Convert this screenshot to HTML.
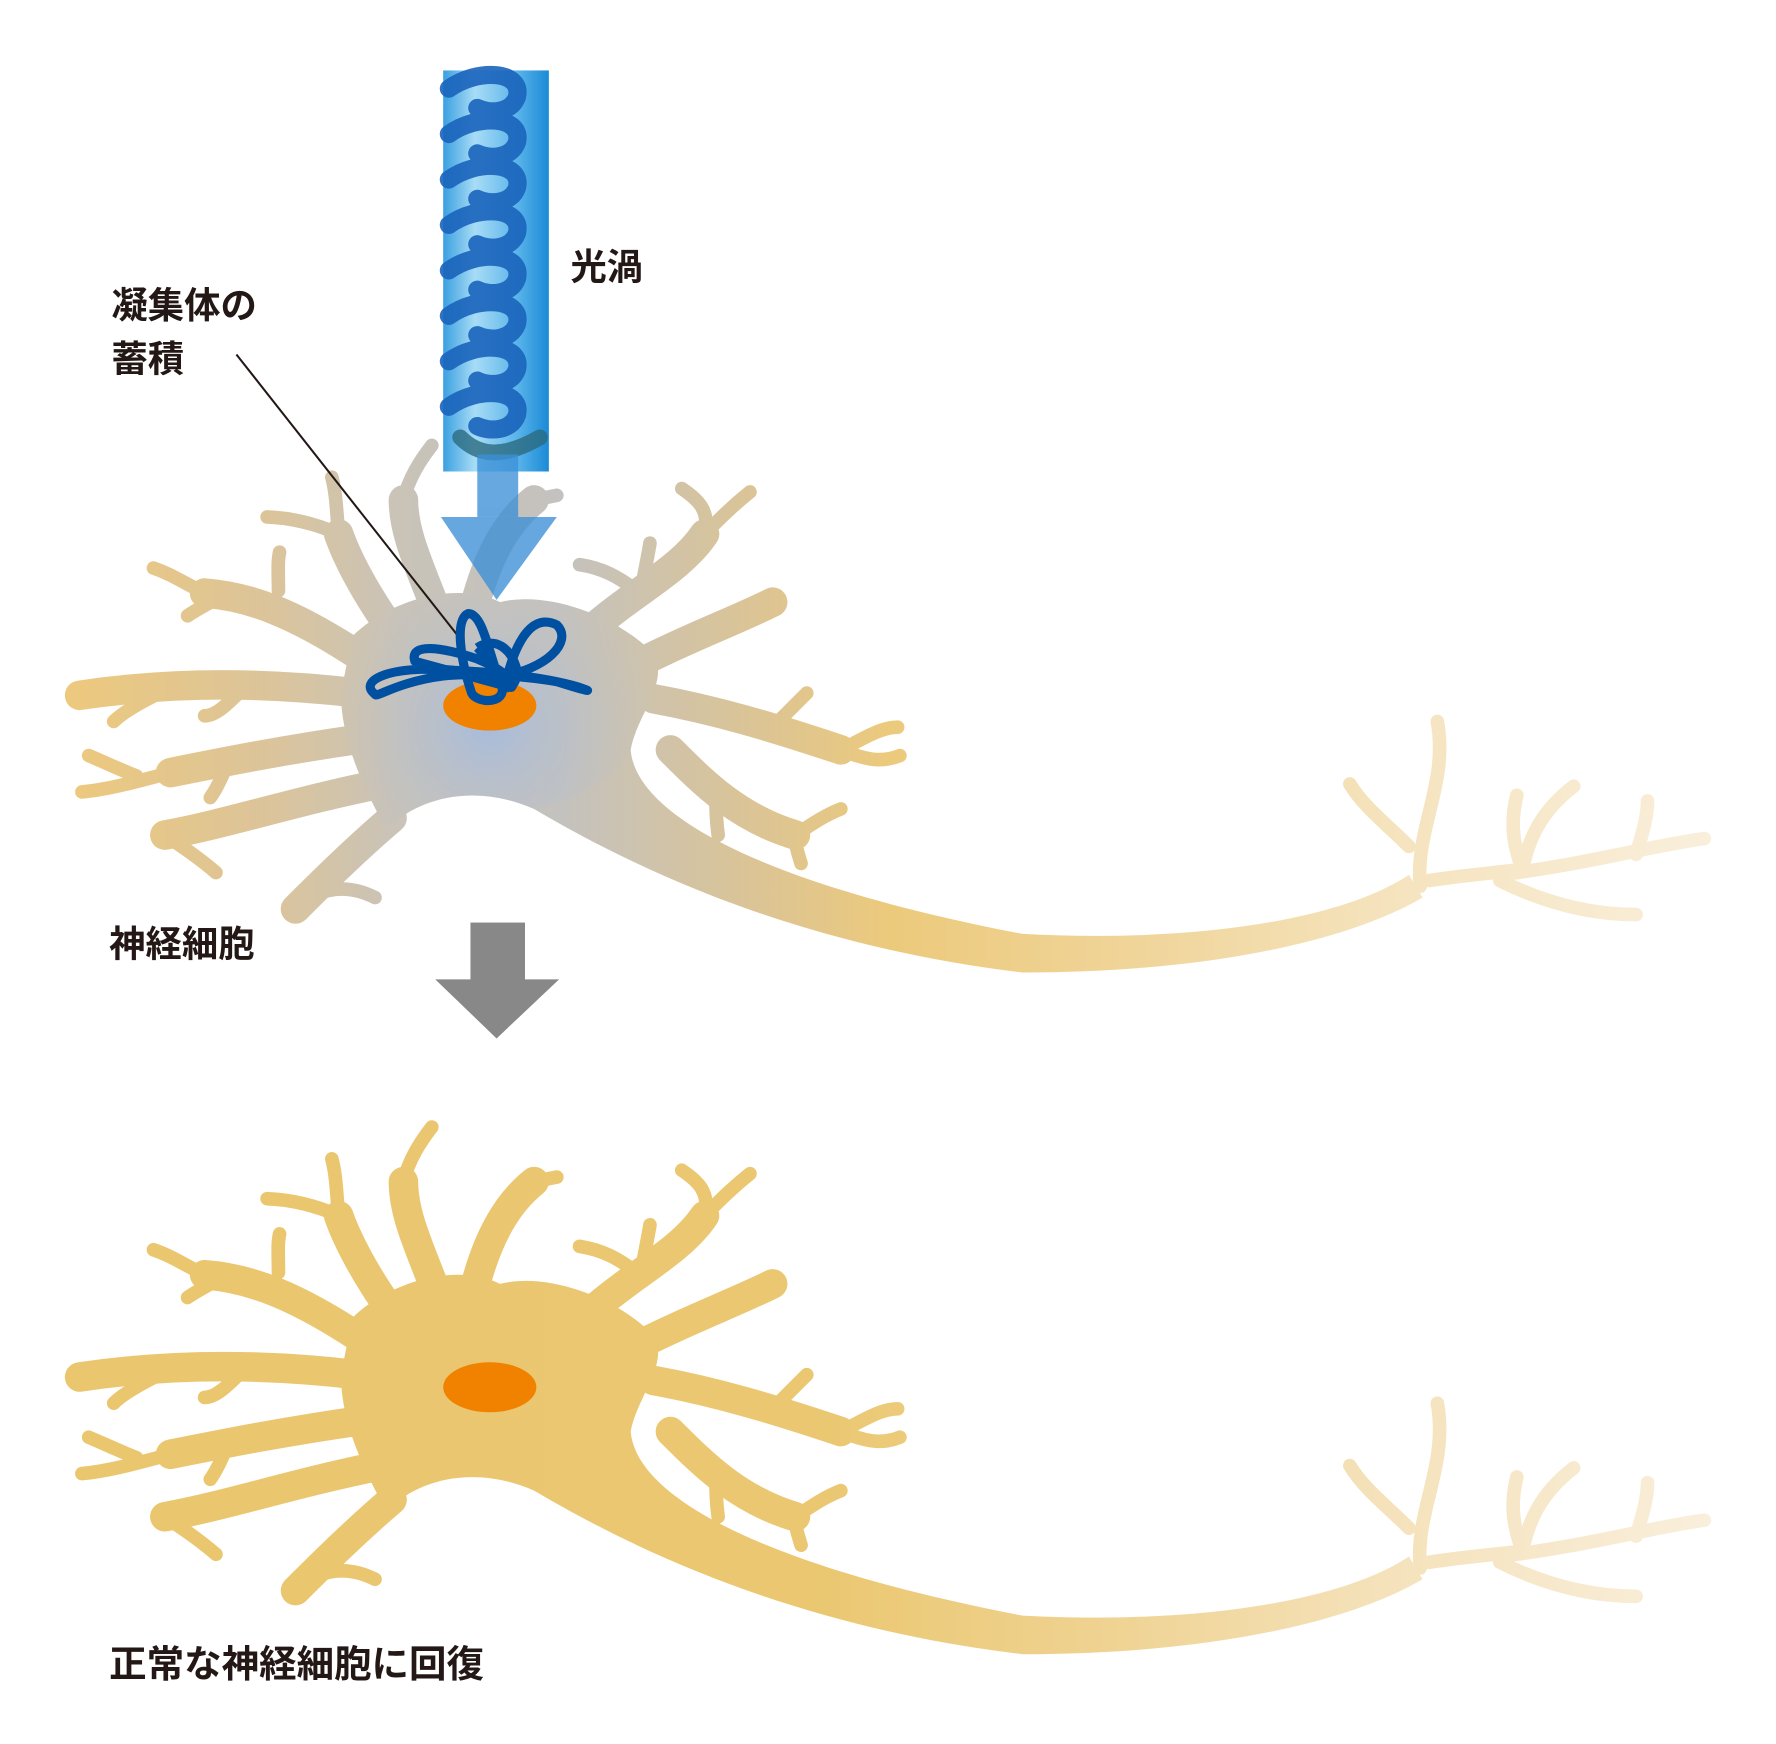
<!DOCTYPE html>
<html><head><meta charset="utf-8"><style>
html,body{margin:0;padding:0;background:#fff}
svg{display:block}
text{font-family:"Liberation Sans","Noto Sans CJK JP",sans-serif;font-weight:bold;fill:#231815}
</style></head><body>
<svg width="1776" height="1744" viewBox="0 0 1563 1535" xmlns="http://www.w3.org/2000/svg">
<defs>
<linearGradient id="g1" gradientUnits="userSpaceOnUse" x1="60" y1="0" x2="1510" y2="0">
<stop offset="0" stop-color="#edc97d"/><stop offset="0.12" stop-color="#dcc49a"/>
<stop offset="0.2" stop-color="#c9c3b8"/><stop offset="0.3" stop-color="#c4c2be"/>
<stop offset="0.42" stop-color="#dcc494"/><stop offset="0.5" stop-color="#ecca7c"/>
<stop offset="0.65" stop-color="#f0d59a"/><stop offset="0.8" stop-color="#f5e3bd"/>
<stop offset="1" stop-color="#f9efdc"/></linearGradient>
<linearGradient id="g2" gradientUnits="userSpaceOnUse" x1="60" y1="0" x2="1510" y2="0">
<stop offset="0" stop-color="#eac66f"/><stop offset="0.45" stop-color="#eac770"/>
<stop offset="0.62" stop-color="#efd290"/><stop offset="0.8" stop-color="#f5e2bb"/>
<stop offset="1" stop-color="#f9efdc"/></linearGradient>
<radialGradient id="rb" cx="430" cy="640" r="150" gradientUnits="userSpaceOnUse">
<stop offset="0" stop-color="#a8bcdc" stop-opacity="1"/><stop offset="1" stop-color="#c4c2be" stop-opacity="0"/></radialGradient>
<linearGradient id="beam" x1="0" y1="0" x2="1" y2="0">
<stop offset="0" stop-color="#3aa0e0"/><stop offset="0.3" stop-color="#a8dcf6"/>
<stop offset="0.7" stop-color="#5ab4ea"/><stop offset="1" stop-color="#1a8ad6"/></linearGradient>
<path id="soma" stroke="none" d="M310,560 C340,530 400,510 440,530 C480,520 540,540 575,575 C590,600 560,630 555,660 C560,720 680,780 900,822 C1050,830 1180,810 1240,770 L1252,790 C1180,832 1050,856 900,856 C700,832 560,765 470,712 C420,690 370,700 340,730 C318,690 300,650 300,610 Z"/>
<g id="n" stroke-linecap="round" stroke-linejoin="round">
<use href="#soma"/>
<g fill="none" stroke-width="26">
<path d="M345,555 C320,520 305,490 298,470"/>
<path d="M320,580 C260,540 220,525 180,522"/>
<path d="M315,610 C230,600 150,600 70,612"/>
<path d="M320,650 C250,660 200,670 150,680"/>
<path d="M335,690 C260,705 200,725 145,735"/>
<path d="M345,720 C310,750 280,780 260,800"/>
<path d="M385,540 C370,500 355,470 355,440"/>
<path d="M420,525 C430,490 445,460 470,440"/>
<path d="M525,550 C560,520 600,500 620,470"/>
<path d="M570,580 C610,560 650,545 680,530"/>
<path d="M575,615 C630,625 680,640 740,660"/>
<path d="M590,660 C620,690 650,720 700,735"/>
</g>
<g fill="none" stroke-width="12">
<path d="M298,470 C280,462 260,456 235,455"/>
<path d="M298,470 C296,450 296,435 292,420"/>
<path d="M180,522 C160,512 150,505 135,500"/>
<path d="M245,520 C245,505 244,495 246,486"/>
<path d="M200,522 C185,530 172,537 165,542"/>
<path d="M150,605 C130,615 110,625 100,635"/>
<path d="M215,605 C200,620 190,630 180,630"/>
<path d="M150,680 C120,688 95,695 72,697"/>
<path d="M120,683 C100,675 90,670 78,665"/>
<path d="M200,672 C195,685 190,695 185,702"/>
<path d="M145,735 C160,745 175,755 190,768"/>
<path d="M260,800 C275,785 300,775 330,790"/>
<path d="M355,440 C360,420 370,405 380,392"/>
<path d="M470,440 L490,436"/>
<path d="M620,470 C625,450 615,440 600,430"/>
<path d="M620,470 C635,455 645,445 660,433"/>
<path d="M560,520 C545,508 530,500 510,497"/>
<path d="M565,515 C568,500 570,490 572,478"/>
<path d="M740,660 C760,650 775,640 790,640"/>
<path d="M740,660 C760,668 775,672 792,665"/>
<path d="M680,640 C690,630 700,620 710,610"/>
<path d="M630,700 C630,710 630,720 632,735"/>
<path d="M700,735 C700,745 702,750 705,760"/>
<path d="M700,735 C715,725 725,718 740,712"/>
<path d="M1250,780 C1245,730 1275,690 1265,635"/>
<path d="M1240,745 C1220,725 1200,710 1188,690"/>
<path d="M1258,775 C1290,770 1320,768 1340,765"/>
<path d="M1340,765 C1345,740 1355,715 1385,692"/>
<path d="M1340,765 C1330,740 1330,720 1335,700"/>
<path d="M1320,770 C1400,760 1450,745 1500,738"/>
<path d="M1440,752 C1445,735 1450,720 1450,705"/>
<path d="M1320,775 C1360,795 1400,805 1440,805"/>
</g>
</g>
</defs>

<!-- top neuron -->
<use href="#n" fill="url(#g1)" stroke="url(#g1)"/>
<path d="M310,560 C340,530 400,510 440,530 C480,520 540,540 575,575 C590,600 560,630 555,660 C540,690 500,705 470,712 C420,690 370,700 340,730 C318,690 300,650 300,610 Z" fill="url(#rb)"/>

<!-- beam -->
<rect x="390" y="62" width="93" height="353" fill="url(#beam)"/>
<g fill="none" stroke="#1a64bc" stroke-width="16" stroke-linecap="round" opacity="0.9">
<path d="M395,78 C420,60 460,62 455,85 C450,100 430,100 420,95"/>
<path d="M395,118 C420,100 460,102 455,125 C450,140 430,140 420,135"/>
<path d="M395,158 C420,140 460,142 455,165 C450,180 430,180 420,175"/>
<path d="M395,198 C420,180 460,182 455,205 C450,220 430,220 420,215"/>
<path d="M395,238 C420,220 460,222 455,245 C450,260 430,260 420,255"/>
<path d="M395,278 C420,260 460,262 455,285 C450,300 430,300 420,295"/>
<path d="M395,318 C420,300 460,302 455,325 C450,340 430,340 420,335"/>
<path d="M395,358 C420,340 460,342 455,365 C450,380 430,380 420,375"/>
</g>
<path d="M405,385 C420,400 440,405 475,385" fill="none" stroke="#2a6a80" stroke-width="14" stroke-linecap="round" opacity="0.8"/>
<g opacity="0.78" fill="#3b8fd6">
<rect x="420" y="400" width="36" height="55"/>
<polygon points="388,455 490,455 437,528"/>
</g>

<!-- leader line -->
<line x1="208" y1="312" x2="408" y2="566" stroke="#231815" stroke-width="1.8"/>

<!-- aggregate -->
<ellipse cx="431" cy="621" rx="41" ry="22" fill="#f08200"/>
<g fill="none" stroke="#0050a2" stroke-width="8" stroke-linejoin="round">
<path d="M330,611 C315,600 340,585 400,590 C440,592 480,596 510,605 C525,610 515,608 490,600 C460,595 420,592 390,595 C350,600 330,615 330,611 Z"/>
<path d="M365,582 C360,565 390,570 420,580 C440,588 455,600 450,605 C430,600 395,590 365,582 Z"/>
<path d="M415,610 C405,580 400,545 412,540 C425,540 430,575 440,600 C450,620 420,620 415,610 Z"/>
<path d="M445,600 C455,560 470,540 490,550 C505,565 480,590 440,595"/>
<path d="M420,570 C435,560 450,570 455,590 C455,605 445,610 440,600 C432,585 425,575 420,570"/>
</g>

<!-- gray arrow -->
<rect x="414" y="812" width="48" height="51" fill="#888"/>
<polygon points="383,862 492,862 437,914" fill="#888"/>

<!-- bottom neuron -->
<g transform="translate(0,600)">
<use href="#n" fill="url(#g2)" stroke="url(#g2)"/>
<ellipse cx="431" cy="621" rx="41" ry="22" fill="#f08200"/>
</g>

<text x="98" y="280" font-size="32">凝集体の</text>
<text x="98" y="327" font-size="32">蓄積</text>
<text x="502" y="246" font-size="32">光渦</text>
<text x="96" y="842" font-size="32">神経細胞</text>
<text x="96" y="1476" font-size="33">正常な神経細胞に回復</text>
</svg>
</body></html>
